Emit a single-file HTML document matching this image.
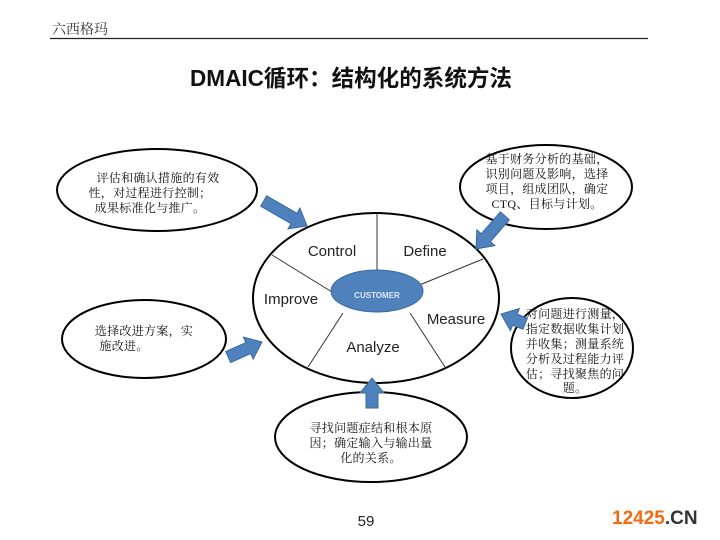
<!DOCTYPE html>
<html><head><meta charset="utf-8"><style>
body{margin:0;background:#fff}
svg{display:block}
.cj{font-family:"Liberation Serif","Noto Serif CJK SC",serif;font-size:12px;fill:#111;letter-spacing:0.3px}
.lb{font-family:"Liberation Sans",sans-serif;font-size:15px;fill:#222}
</style></head><body>
<svg width="720" height="540" viewBox="0 0 720 540" xmlns="http://www.w3.org/2000/svg">
<text x="52" y="34" style="font-family:'Liberation Serif','Noto Serif CJK SC',serif;font-size:14px" fill="#333">六西格玛</text>
<line x1="50" y1="38.5" x2="648" y2="38.5" stroke="#222" stroke-width="1.2"/>
<text x="351" y="86" text-anchor="middle" style="font-family:'Liberation Sans','Noto Sans CJK SC',sans-serif;font-size:23px;font-weight:bold" fill="#111" textLength="322" lengthAdjust="spacingAndGlyphs">DMAIC循环：结构化的系统方法</text>

<ellipse cx="376" cy="298" rx="123" ry="85" fill="#fff" stroke="#000" stroke-width="2"/>
<g stroke="#333" stroke-width="1">
<line x1="377" y1="214" x2="377" y2="270"/>
<line x1="272" y1="255" x2="332" y2="292"/>
<line x1="483" y1="259" x2="417" y2="286"/>
<line x1="343" y1="313" x2="308" y2="367"/>
<line x1="410" y1="313" x2="445" y2="367"/>
</g>
<ellipse cx="377" cy="291" rx="46" ry="21" fill="#4f81bd" stroke="#3a6aa0"/>
<text x="377" y="298" text-anchor="middle" style="font-family:'Liberation Sans',sans-serif;font-size:8px;font-weight:bold" fill="#dde8f5">CUSTOMER</text>
<text class="lb" x="332" y="256" text-anchor="middle">Control</text>
<text class="lb" x="425" y="256" text-anchor="middle">Define</text>
<text class="lb" x="291" y="304" text-anchor="middle">Improve</text>
<text class="lb" x="456" y="324" text-anchor="middle">Measure</text>
<text class="lb" x="373" y="352" text-anchor="middle">Analyze</text>

<g fill="#fff" stroke="#000" stroke-width="2">
<ellipse cx="157" cy="190" rx="100" ry="41"/>
<ellipse cx="546" cy="187" rx="86" ry="42"/>
<ellipse cx="572" cy="348" rx="61" ry="50"/>
<ellipse cx="144" cy="339" rx="82" ry="39"/>
<ellipse cx="371" cy="437" rx="96" ry="45"/>
</g>
<text class="cj" text-anchor="middle"><tspan x="158" y="182">评估和确认措施的有效</tspan><tspan x="150" y="197">性，对过程进行控制；</tspan><tspan x="150" y="212">成果标准化与推广。</tspan></text>
<text class="cj" text-anchor="middle"><tspan x="547" y="163">基于财务分析的基础，</tspan><tspan x="547" y="178">识别问题及影响，选择</tspan><tspan x="547" y="193">项目，组成团队，确定</tspan><tspan x="547" y="208">CTQ、目标与计划。</tspan></text>
<text class="cj" text-anchor="middle"><tspan x="575" y="318">对问题进行测量，</tspan><tspan x="575" y="333">指定数据收集计划</tspan><tspan x="575" y="348">并收集；测量系统</tspan><tspan x="575" y="363">分析及过程能力评</tspan><tspan x="575" y="378">估；寻找聚焦的问</tspan><tspan x="575" y="392">题。</tspan></text>
<text class="cj" text-anchor="middle"><tspan x="144" y="335">选择改进方案，实</tspan><tspan x="124" y="350">施改进。</tspan></text>
<text class="cj" text-anchor="middle"><tspan x="371" y="432">寻找问题症结和根本原</tspan><tspan x="371" y="447">因；确定输入与输出量</tspan><tspan x="371" y="462">化的关系。</tspan></text>

<g fill="#4f81bd" stroke="#3a6aa0" stroke-width="1">
<g transform="translate(307,226) rotate(30)"><polygon points="-50,-6 -15,-6 -15,-12 0,0 -15,12 -15,6 -50,6"/></g>
<g transform="translate(476,249) rotate(131)"><polygon points="-44,-6 -15,-6 -15,-12 0,0 -15,12 -15,6 -44,6"/></g>
<g transform="translate(501,314) rotate(202)"><polygon points="-26,-6 -15,-6 -15,-12 0,0 -15,12 -15,6 -26,6"/></g>
<g transform="translate(262,342) rotate(-24)"><polygon points="-37,-6 -15,-6 -15,-12 0,0 -15,12 -15,6 -37,6"/></g>
<g transform="translate(372,378) rotate(-90)"><polygon points="-30,-6 -15,-6 -15,-12 0,0 -15,12 -15,6 -30,6"/></g>
</g>

<text x="366" y="526" text-anchor="middle" style="font-family:'Liberation Sans',sans-serif;font-size:15px" fill="#222">59</text>
<text x="612" y="524" style="font-family:'Liberation Sans',sans-serif;font-size:19px;font-weight:bold"><tspan fill="#f26b10">12425</tspan><tspan fill="#333">.CN</tspan></text>
</svg>
</body></html>
